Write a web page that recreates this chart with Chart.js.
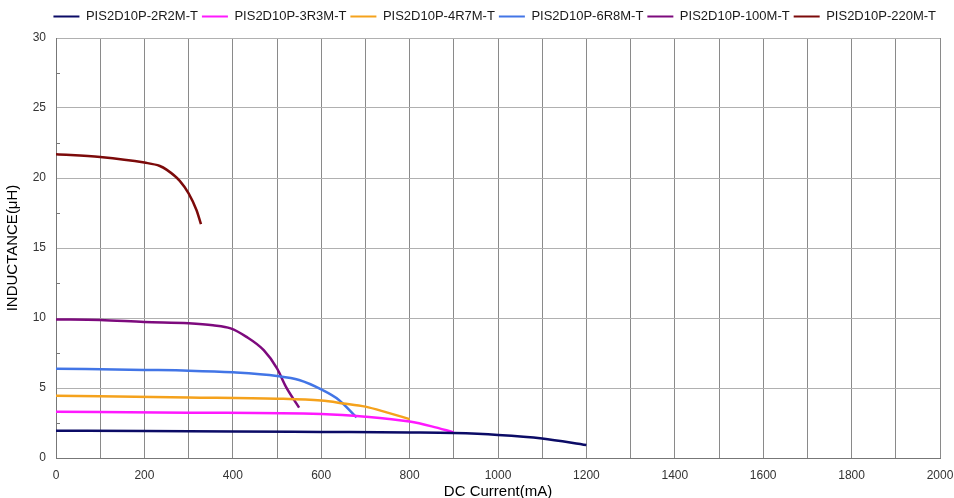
<!DOCTYPE html>
<html>
<head>
<meta charset="utf-8">
<script src="https://cdn.jsdelivr.net/npm/chart.js@4/dist/chart.umd.min.js"></script>
<style>
    html, body { margin: 0; padding: 0; background: #fff; }
    #wrap { width: 954px; height: 498px; }
</style>
</head>
<body>
<div id="wrap"><canvas id="chart"></canvas></div>
<script>
// ── Data ─────────────────────────────────────────────────────
const seriesNames = [
    "PIS2D10P-2R2M-T", "PIS2D10P-3R3M-T", "PIS2D10P-4R7M-T",
    "PIS2D10P-6R8M-T", "PIS2D10P-100M-T", "PIS2D10P-220M-T"
];
const seriesColors = ["#0b0b66", "#ff19ff", "#f5a21c", "#4275e6", "#7d0a7d", "#7c0a0a"];

const current2R2 = [0, 200, 400, 600, 800, 900, 1000, 1100, 1200];
const induct2R2  = [1.95, 1.93, 1.9, 1.86, 1.82, 1.78, 1.65, 1.4, 0.93];

const current3R3 = [0, 300, 600, 700, 800, 850, 900];
const induct3R3  = [3.31, 3.24, 3.14, 2.95, 2.6, 2.26, 1.83];

const current4R7 = [0, 300, 500, 600, 650, 700, 750, 800];
const induct4R7  = [4.45, 4.33, 4.24, 4.1, 3.9, 3.67, 3.24, 2.78];

const current6R8 = [0, 200, 300, 400, 500, 550, 600, 640, 680];
const induct6R8  = [6.38, 6.29, 6.24, 6.12, 5.86, 5.57, 4.9, 4.15, 2.9];

const current100 = [0, 100, 200, 300, 355, 395, 430, 470, 500, 520, 550];
const induct100  = [9.9, 9.86, 9.71, 9.62, 9.48, 9.26, 8.67, 7.7, 6.4, 5.1, 3.6];

const current220 = [0, 100, 200, 235, 250, 280, 300, 318, 328];
const induct220  = [21.7, 21.5, 21.1, 20.86, 20.6, 19.8, 18.9, 17.7, 16.7];

const allCurrents = [current2R2, current3R3, current4R7, current6R8, current100, current220];
const allInducts  = [induct2R2, induct3R3, induct4R7, induct6R8, induct100, induct220];

const xTickStep = 100;   // grid every 100 mA, labels every 200
const yTickStep = 2.5;   // minor marks, labels every 5

// ── Helpers ──────────────────────────────────────────────────
function toPoints(xs, ys) {
    return xs.map((x, i) => ({ x: x, y: ys[i] }));
}

const isMajorY = v => Math.abs(v % 5) < 1e-6;

// short inward tick marks at the minor y values
const minorTicks = {
    id: "minorTicks",
    afterDraw(chart) {
        const y = chart.scales.y;
        const ctx = chart.ctx;
        ctx.save();
        ctx.strokeStyle = "#777";
        ctx.lineWidth = 1;
        y.ticks.forEach(t => {
            if (isMajorY(t.value)) return;
            const py = Math.round(y.getPixelForValue(t.value)) + 0.5;
            ctx.beginPath();
            ctx.moveTo(y.right, py);
            ctx.lineTo(y.right + 4, py);
            ctx.stroke();
        });
        ctx.restore();
    }
};

// a bit more room under the legend
const legendGap = {
    id: "legendGap",
    beforeInit(chart) {
        const fit = chart.legend.fit;
        chart.legend.fit = function () {
            fit.call(this);
            this.height += 5;
        };
    }
};

// ── Chart ────────────────────────────────────────────────────
const font = "'Liberation Sans', Arial, sans-serif";

new Chart(document.getElementById("chart"), {
    type: "scatter",
    data: {
        datasets: seriesNames.map((name, i) => ({
            label: name,
            data: toPoints(allCurrents[i], allInducts[i]),
            showLine: true,
            borderColor: seriesColors[i],
            backgroundColor: seriesColors[i],
            borderWidth: 2.5,
            pointRadius: 0,
            cubicInterpolationMode: "monotone"
        }))
    },
    options: {
        responsive: true,
        maintainAspectRatio: false,
        animation: false,
        layout: { padding: { left: 0, right: 14, top: 6, bottom: 0 } },
        plugins: {
            legend: {
                position: "top",
                align: "end",
                labels: {
                    font: { family: font, size: 13 },
                    color: "#1a1a1a",
                    boxWidth: 26,
                    boxHeight: 2,
                    padding: 4,
                    generateLabels(chart) {
                        return Chart.defaults.plugins.legend.labels.generateLabels(chart)
                            .map(l => ({ ...l, lineWidth: 0 }));
                    }
                }
            },
            tooltip: { enabled: false }
        },
        scales: {
            x: {
                type: "linear",
                min: 0,
                max: 2000,
                afterFit: s => { s.height = 40; },
                ticks: {
                    stepSize: xTickStep,
                    autoSkip: false,
                    maxRotation: 0,
                    padding: 0,
                    color: "#333",
                    font: { family: font, size: 12 },
                    callback: v => (v % 200 === 0 ? v : "")
                },
                grid: { color: "#8a8a8a", tickLength: 10, tickColor: "rgba(0,0,0,0)" },
                border: { color: "#777" },
                title: {
                    display: true,
                    text: "DC Current(mA)",
                    color: "#000",
                    font: { family: font, size: 15 },
                    padding: { top: 0, bottom: -3 }
                }
            },
            y: {
                min: 0,
                max: 30,
                afterFit: s => { s.width = 56; },
                ticks: {
                    stepSize: yTickStep,
                    autoSkip: false,
                    color: "#333",
                    font: { family: font, size: 12 },
                    padding: 0,
                    callback: v => (isMajorY(v) ? v : "")
                },
                grid: {
                    tickLength: 10,
                    tickColor: "rgba(0,0,0,0)",
                    color: ctx => (isMajorY(ctx.tick.value) ? "#b0b0b0" : "rgba(0,0,0,0)")
                },
                border: { color: "#777" },
                title: {
                    display: true,
                    text: "INDUCTANCE(μH)",
                    color: "#000",
                    font: { family: font, size: 15 },
                    padding: { top: 4, bottom: 0 }
                }
            }
        }
    },
    plugins: [minorTicks, legendGap]
});
</script>
</body>
</html>
